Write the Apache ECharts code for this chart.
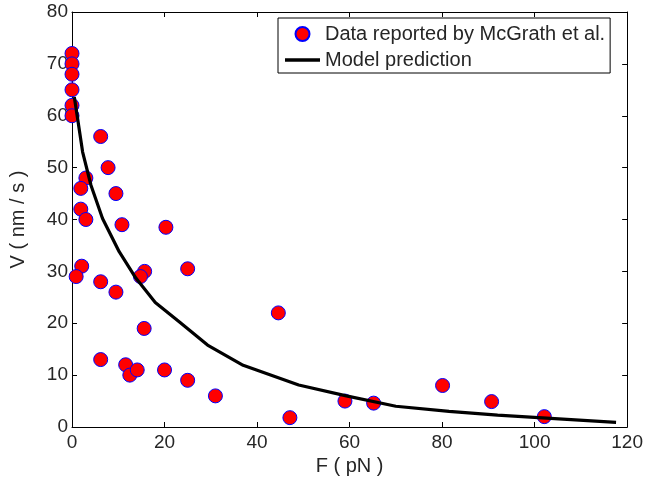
<!DOCTYPE html>
<html><head><meta charset="utf-8">
<script src="https://cdn.jsdelivr.net/npm/echarts@6/dist/echarts.min.js"></script>
<style>html,body{margin:0;padding:0;background:#fff}#c{width:646px;height:485px}</style>
</head><body><div id="c"></div>
<script>
var dataF = [0,0,0,0,0,0, 6.2,7.8,3.0,1.9,9.5,1.9,3.0,10.8,20.3, 2.1,0.9,6.2,9.5,15.7,14.8,25,15.6,6.2,11.6,12.5,14.1,20,25,31, 44.6,47.1,59,65.2,80.1,90.7,102.1];
var dataV = [72,70,68,65,62,60, 56,50,48,46,45,42,40,39,38.5, 31,29,28,26,30,29,30.5,19,13,12,10,11,11,9,6, 22,1.8,5,4.6,8,4.9,2];
var modelF = [0.5,1.2,2.3,4.1,6.6,10.2,13.8,18,23.3,29.3,37,49,59.3,70,81.5,92,117.6];
var modelV = [63.6,59.5,53,46.6,40.2,33.8,28.7,24,20.2,15.8,11.9,8.1,6.0,4.0,3.0,2.3,0.9];
var xTicks = [0,20,40,60,80,100,120];
var yTicks = [0,10,20,30,40,50,60,70,80];
var seriesNames = ['Data reported by McGrath et al.','Model prediction'];

var FONT = '"Liberation Sans", Arial, sans-serif';
var TXT = '#262626';
var chart = echarts.init(document.getElementById('c'), null, {renderer:'canvas'});
function axisCommon(){
  return {
    axisLine:{show:true, onZero:false, lineStyle:{color:'#000', width:1}},
    axisTick:{show:true, inside:true, length:5, lineStyle:{color:'#000'}},
    splitLine:{show:false}
  };
}
var xMain = Object.assign(axisCommon(), {
  type:'value', min:xTicks[0], max:xTicks[xTicks.length-1], interval:20, position:'bottom',
  name:'F ( pN )', nameLocation:'middle', nameGap:28,
  nameTextStyle:{fontFamily:FONT, fontSize:20, color:TXT},
  axisLabel:{fontFamily:FONT, fontSize:19, color:TXT, margin:6}
});
var xTop = Object.assign(axisCommon(), {
  type:'value', min:xTicks[0], max:xTicks[xTicks.length-1], interval:20, position:'top',
  axisLabel:{show:false}
});
var yMain = Object.assign(axisCommon(), {
  type:'value', min:yTicks[0], max:yTicks[yTicks.length-1], interval:10, position:'left',
  name:'V ( nm / s )', nameLocation:'middle', nameGap:44, nameRotate:90,
  nameTextStyle:{fontFamily:FONT, fontSize:20, color:TXT},
  axisLabel:{fontFamily:FONT, fontSize:19, color:TXT, margin:4}
});
var yRight = Object.assign(axisCommon(), {
  type:'value', min:yTicks[0], max:yTicks[yTicks.length-1], interval:10, position:'right',
  axisLabel:{show:false}
});

chart.setOption({
  animation:false,
  backgroundColor:'#fff',
  grid:{left:71, right:17, top:12, bottom:58, containLabel:false},
  xAxis:[xMain, xTop],
  yAxis:[yMain, yRight],
  legend:{
    left:278, top:18, orient:'vertical',
    padding:[6,5,3,7],
    backgroundColor:'#fff', borderColor:'#000', borderWidth:1, borderRadius:0,
    itemWidth:35, itemHeight:14, itemGap:6, itemTextGap:5,
    symbolKeepAspect:true,
    textStyle:{fontFamily:FONT, fontSize:20, color:TXT},
    data:[
      {name:seriesNames[0], icon:'circle'},
      {name:seriesNames[1], icon:'path://M0,0H35V3.5H0Z', itemStyle:{color:'#000'}}
    ]
  },
  series:[
    {
      name:seriesNames[0], type:'scatter',
      symbol:'circle', symbolSize:14,
      itemStyle:{color:'#ff0000', borderColor:'#0000ff', borderWidth:1, opacity:1},
      data: dataF.map(function(f,i){return [f, dataV[i]];}),
      z:2
    },
    {
      name:seriesNames[1], type:'line', symbol:'none', showSymbol:false,
      lineStyle:{color:'#000', width:3.2},
      itemStyle:{color:'#000'},
      data: modelF.map(function(f,i){return [f, modelV[i]];}),
      z:3
    }
  ]
});
</script></body></html>
